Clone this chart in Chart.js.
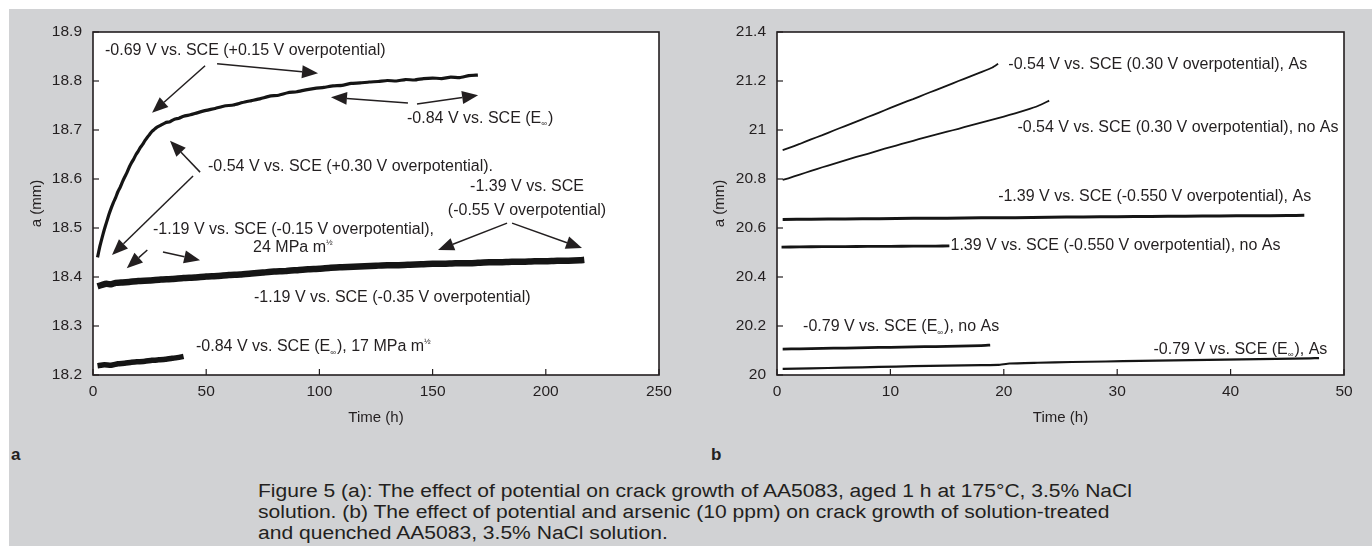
<!DOCTYPE html>
<html>
<head>
<meta charset="utf-8">
<script src="https://cdn.jsdelivr.net/npm/chart.js@4.4.1/dist/chart.umd.min.js"></script>
<style>
  body { margin: 0; width: 1372px; height: 546px; background: #fff; overflow: hidden;
         font-family: "Liberation Sans", Arial, sans-serif; color: #231f20; }
  #panel { position: absolute; left: 9px; top: 9px; width: 1363px; height: 537px; background: #d1d2d4; }
  .chartbox { position: absolute; top: 0; height: 430px; }
  #boxA { left: 24px; width: 660px; }
  #boxB { left: 707px; width: 658px; }
  .tag { position: absolute; top: 445px; font-weight: bold; font-size: 17px; }
  #caption { position: absolute; left: 258px; top: 481px; font-size: 18px; line-height: 21px;
             transform: scaleX(1.17); transform-origin: left top; white-space: nowrap; }
</style>
</head>
<body>
<div id="panel"></div>
<div class="chartbox" id="boxA"><canvas id="chartA"></canvas></div>
<div class="chartbox" id="boxB"><canvas id="chartB"></canvas></div>
<div class="tag" style="left:11px">a</div>
<div class="tag" style="left:711px">b</div>
<div id="caption">
  Figure 5 (a): The effect of potential on crack growth of AA5083, aged 1 h at 175°C, 3.5% NaCl<br>
  solution. (b) The effect of potential and arsenic (10 ppm) on crack growth of solution-treated<br>
  and quenched AA5083, 3.5% NaCl solution.
</div>
<script>
const ink = "#231f20";

// ---- panel a: crack length a (mm) vs time (h), AA5083 aged 1 h at 175°C
const xTicksA = [0, 50, 100, 150, 200, 250];
const yTicksA = [18.2, 18.3, 18.4, 18.5, 18.6, 18.7, 18.8, 18.9];
const yLabelsA = ["18.2", "18.3", "18.4", "18.5", "18.6", "18.7", "18.8", "18.9"];

// -0.54 / -0.69 / -0.84 V vs. SCE run
const timeA1 = [2, 3, 4, 5, 6, 7, 8, 9, 10, 11, 12, 13, 14, 15, 16, 17, 18, 19, 20, 21, 22, 23, 24, 25, 26, 27, 28,
  30, 32, 34, 36, 38, 40, 43, 46, 50, 54, 58, 62, 66, 70, 74, 78, 82, 86, 90, 94, 98, 102, 106, 110, 114, 118,
  122, 126, 130, 134, 138, 142, 146, 150, 154, 158, 162, 166, 170];
const crackA1 = [18.440, 18.462, 18.480, 18.497, 18.512, 18.527, 18.540, 18.552, 18.562, 18.574, 18.583, 18.594,
  18.604, 18.613, 18.624, 18.633, 18.641, 18.650, 18.657, 18.665, 18.671, 18.679, 18.685, 18.691, 18.697, 18.701,
  18.705, 18.710, 18.715, 18.717, 18.722, 18.724, 18.728, 18.731, 18.735, 18.740, 18.744, 18.749, 18.751, 18.756,
  18.760, 18.764, 18.769, 18.771, 18.776, 18.778, 18.782, 18.785, 18.787, 18.790, 18.791, 18.795, 18.796, 18.798,
  18.799, 18.801, 18.800, 18.803, 18.802, 18.805, 18.806, 18.805, 18.808, 18.807, 18.811, 18.812];

// -1.19 / -1.39 V vs. SCE run
const timeA2 = [2, 4, 6, 8, 10, 13, 16, 20, 25, 30, 35, 40, 45, 50, 55, 60, 65, 70, 75, 80, 85, 90, 95, 100, 105,
  110, 115, 120, 125, 130, 135, 140, 145, 150, 155, 160, 165, 170, 175, 180, 185, 190, 195, 200, 205, 210, 215, 217];
const crackA2 = [18.381, 18.384, 18.386, 18.385, 18.388, 18.389, 18.390, 18.392, 18.393, 18.395, 18.396, 18.398,
  18.399, 18.401, 18.402, 18.404, 18.405, 18.407, 18.409, 18.411, 18.412, 18.414, 18.416, 18.417, 18.419, 18.420,
  18.421, 18.422, 18.423, 18.424, 18.424, 18.425, 18.426, 18.427, 18.427, 18.428, 18.428, 18.429, 18.430, 18.430,
  18.431, 18.431, 18.432, 18.432, 18.433, 18.433, 18.434, 18.435];

// -0.84 V vs. SCE, 17 MPa m^1/2
const timeA3 = [2, 5, 8, 11, 14, 17, 20, 23, 26, 29, 32, 35, 38, 40];
const crackA3 = [18.219, 18.221, 18.220, 18.223, 18.224, 18.226, 18.227, 18.228, 18.230, 18.231, 18.232, 18.234,
  18.236, 18.238];

// ---- panel b: solution-treated and quenched AA5083, with / without As
const xTicksB = [0, 10, 20, 30, 40, 50];
const yTicksB = [20, 20.2, 20.4, 20.6, 20.8, 21, 21.2, 21.4];
const yLabelsB = ["20", "20.2", "20.4", "20.6", "20.8", "21", "21.2", "21.4"];

const timeB1 = [0.5, 1, 2, 3, 4, 5, 6, 7, 8, 9, 10, 11, 12, 13, 14, 15, 16, 17, 18, 19, 19.5];
const crackB1 = [20.918, 20.926, 20.943, 20.962, 20.979, 20.998, 21.016, 21.034, 21.053, 21.071, 21.090, 21.109,
  21.126, 21.145, 21.163, 21.181, 21.200, 21.218, 21.236, 21.255, 21.270];
const timeB2 = [0.5, 1, 2, 3, 4, 5, 6, 7, 8, 9, 10, 11, 12, 13, 14, 15, 16, 17, 18, 19, 20, 21, 22, 23, 24];
const crackB2 = [20.796, 20.803, 20.818, 20.833, 20.848, 20.862, 20.876, 20.890, 20.903, 20.917, 20.930, 20.943,
  20.956, 20.969, 20.981, 20.993, 21.005, 21.018, 21.030, 21.042, 21.055, 21.068, 21.082, 21.098, 21.120];
const timeB3 = [0.5, 3, 6, 9, 12, 15, 18, 21, 24, 27, 30, 33, 36, 39, 42, 45, 46.5];
const crackB3 = [20.635, 20.636, 20.637, 20.638, 20.640, 20.640, 20.642, 20.642, 20.644, 20.645, 20.646, 20.647,
  20.648, 20.649, 20.650, 20.651, 20.652];
const timeB4 = [0.4, 2, 4, 6, 8, 10, 12, 14, 15.2];
const crackB4 = [20.522, 20.523, 20.524, 20.524, 20.525, 20.525, 20.526, 20.526, 20.527];
const timeB5 = [0.5, 2, 4, 6, 8, 10, 12, 14, 16, 18, 18.8];
const crackB5 = [20.106, 20.107, 20.109, 20.110, 20.112, 20.113, 20.115, 20.116, 20.118, 20.120, 20.122];
const timeB6 = [0.5, 3, 6, 9, 12, 15, 18, 19.5, 20.5, 23, 26, 29, 32, 35, 38, 41, 44, 47, 47.8];
const crackB6 = [20.025, 20.027, 20.030, 20.033, 20.036, 20.038, 20.040, 20.041, 20.047, 20.050, 20.053, 20.055,
  20.058, 20.060, 20.062, 20.064, 20.066, 20.068, 20.069];

// annotations, in data units: [text, time, a, align]
const notesA = [
  ["-0.69 V vs. SCE (+0.15 V overpotential)", 5.3, 18.863, "left"],
  ["-0.84 V vs. SCE (E_{∞})", 138.7, 18.724, "left"],
  ["-0.54 V vs. SCE (+0.30 V overpotential).", 50.8, 18.625, "left"],
  ["-1.39 V vs. SCE", 191.7, 18.584, "center"],
  ["(-0.55 V overpotential)", 191.7, 18.535, "center"],
  ["-1.19 V vs. SCE (-0.15 V overpotential),", 26.5, 18.496, "left"],
  ["24 MPa m^{½}", 70.7, 18.459, "left"],
  ["-1.19 V vs. SCE (-0.35 V overpotential)", 71.1, 18.357, "left"],
  ["-0.84 V vs. SCE (E_{∞}), 17 MPa m^{½}", 45.5, 18.257, "left"],
];
// arrows: [fromTime, fromA, toTime, toA]
const arrowsA = [
  [49.5, 18.831, 26.1, 18.735],
  [54.8, 18.835, 99.4, 18.816],
  [139.1, 18.755, 105.1, 18.767],
  [143.1, 18.753, 170.1, 18.771],
  [47.3, 18.614, 34.0, 18.678],
  [44.2, 18.606, 8.4, 18.445],
  [24.0, 18.455, 14.9, 18.418],
  [30.9, 18.451, 47.3, 18.434],
  [182.9, 18.510, 152.4, 18.455],
  [185.1, 18.510, 216.0, 18.459],
];
const notesB = [
  ["-0.54 V vs. SCE (0.30 V overpotential), As", 20.4, 21.265, "left"],
  ["-0.54 V vs. SCE (0.30 V overpotential), no As", 21.2, 21.008, "left"],
  ["-1.39 V vs. SCE (-0.550 V overpotential), As", 19.5, 20.727, "left"],
  ["1.39 V vs. SCE (-0.550 V overpotential), no As", 15.3, 20.527, "left"],
  ["-0.79 V vs. SCE (E_{∞}), no As", 2.3, 20.198, "left"],
  ["-0.79 V vs. SCE (E_{∞}), As", 33.2, 20.105, "left"],
];

function pts(xs, ys) {
  return xs.map((x, i) => ({ x: x, y: ys[i] }));
}

function series(xs, ys, width) {
  return {
    data: pts(xs, ys),
    borderColor: "#151515",
    borderWidth: width,
    pointRadius: 0,
    tension: 0.15,
    fill: false,
    borderJoinStyle: "round",
  };
}

// text with _{sub} and ^{sup} pieces
function richText(ctx, text, x, y, align) {
  const parts = text.split(/(_\{[^}]*\}|\^\{[^}]*\})/).filter((p) => p);
  const base = '16px "Liberation Sans", Arial, sans-serif';
  const small = '8px "Liberation Sans", Arial, sans-serif';
  const pieces = parts.map((p) => {
    if (p[0] === "_" || p[0] === "^") {
      ctx.font = small;
      const t = p.slice(2, -1);
      return { t, font: small, dy: p[0] === "_" ? 6 : -5, w: ctx.measureText(t).width + 1 };
    }
    ctx.font = base;
    return { t: p, font: base, dy: 0, w: ctx.measureText(p).width };
  });
  const total = pieces.reduce((s, p) => s + p.w, 0);
  let cx = align === "center" ? x - total / 2 : x;
  ctx.textAlign = "left";
  ctx.textBaseline = "middle";
  pieces.forEach((p) => {
    ctx.font = p.font;
    ctx.fillText(p.t, cx, y + p.dy);
    cx += p.w;
  });
}

function arrow(ctx, x1, y1, x2, y2) {
  const ang = Math.atan2(y2 - y1, x2 - x1);
  const len = 16, half = 6.5;
  const bx = x2 - len * Math.cos(ang), by = y2 - len * Math.sin(ang);
  ctx.beginPath();
  ctx.moveTo(x1, y1);
  ctx.lineTo(bx, by);
  ctx.stroke();
  ctx.beginPath();
  ctx.moveTo(x2, y2);
  ctx.lineTo(bx + half * Math.sin(ang), by - half * Math.cos(ang));
  ctx.lineTo(bx - half * Math.sin(ang), by + half * Math.cos(ang));
  ctx.closePath();
  ctx.fill();
}

const framePlugin = {
  id: "frame",
  beforeDatasetsDraw(chart) {
    const { ctx, chartArea: a } = chart;
    ctx.save();
    ctx.fillStyle = "#fff";
    ctx.fillRect(a.left, a.top, a.right - a.left, a.bottom - a.top);
    ctx.restore();
  },
  afterDatasetsDraw(chart, args, opts) {
    const { ctx, chartArea: a, scales } = chart;
    ctx.save();
    ctx.strokeStyle = ink;
    ctx.fillStyle = ink;
    // inward tick marks
    ctx.lineWidth = 1.2;
    scales.x.ticks.forEach((t) => {
      const px = scales.x.getPixelForValue(t.value);
      ctx.beginPath();
      ctx.moveTo(px, a.bottom);
      ctx.lineTo(px, a.bottom - 6);
      ctx.stroke();
    });
    scales.y.ticks.forEach((t) => {
      const py = scales.y.getPixelForValue(t.value);
      ctx.beginPath();
      ctx.moveTo(a.left, py);
      ctx.lineTo(a.left + 6, py);
      ctx.stroke();
    });
    ctx.lineWidth = 1.6;
    ctx.strokeRect(a.left, a.top, a.right - a.left, a.bottom - a.top);
    // notes and arrows
    (opts.notes || []).forEach((n) => {
      richText(ctx, n[0], scales.x.getPixelForValue(n[1]), scales.y.getPixelForValue(n[2]), n[3]);
    });
    ctx.lineWidth = 1.5;
    (opts.arrows || []).forEach((r) => {
      arrow(ctx,
        scales.x.getPixelForValue(r[0]), scales.y.getPixelForValue(r[1]),
        scales.x.getPixelForValue(r[2]), scales.y.getPixelForValue(r[3]));
    });
    ctx.restore();
  },
};

function makeChart(id, datasets, xTicks, yTicks, yLabels, yWidth, padRight, notes, arrows) {
  const font = { family: '"Liberation Sans", Arial, sans-serif', size: 15.5 };
  return new Chart(document.getElementById(id), {
    type: "line",
    data: { datasets },
    plugins: [framePlugin],
    options: {
      responsive: true,
      maintainAspectRatio: false,
      animation: false,
      events: [],
      layout: { padding: { left: 0, right: padRight, top: 32, bottom: 1 } },
      plugins: {
        legend: { display: false },
        tooltip: { enabled: false },
        frame: { notes, arrows },
      },
      scales: {
        x: {
          type: "linear",
          min: xTicks[0],
          max: xTicks[xTicks.length - 1],
          afterBuildTicks: (s) => { s.ticks = xTicks.map((v) => ({ value: v })); },
          afterFit: (s) => { s.height = 54; },
          ticks: { font, color: ink, padding: 7, maxRotation: 0 },
          grid: { display: false, drawTicks: false },
          border: { display: false },
          title: { display: true, text: "Time (h)", font: { family: font.family, size: 15 }, color: ink,
                   padding: { top: 2, bottom: 2 } },
        },
        y: {
          type: "linear",
          min: yTicks[0],
          max: yTicks[yTicks.length - 1],
          afterBuildTicks: (s) => { s.ticks = yTicks.map((v) => ({ value: v })); },
          afterFit: (s) => { s.width = yWidth; },
          ticks: { font, color: ink, padding: 11, callback: (v, i) => yLabels[i] },
          grid: { display: false, drawTicks: false },
          border: { display: false },
          title: { display: true, text: "a (mm)", font: { family: font.family, size: 15 }, color: ink,
                   padding: { top: 4, bottom: 4 } },
        },
      },
    },
  });
}

makeChart("chartA", [
  series(timeA1, crackA1, 3.2),
  series(timeA2, crackA2, 6.5),
  series(timeA3, crackA3, 5.5),
], xTicksA, yTicksA, yLabelsA, 69, 25, notesA, arrowsA);

makeChart("chartB", [
  series(timeB1, crackB1, 1.8),
  series(timeB2, crackB2, 1.8),
  series(timeB3, crackB3, 3),
  series(timeB4, crackB4, 2.8),
  series(timeB5, crackB5, 2.8),
  series(timeB6, crackB6, 2.2),
], xTicksB, yTicksB, yLabelsB, 70, 21, notesB, []);
</script>
</body>
</html>
